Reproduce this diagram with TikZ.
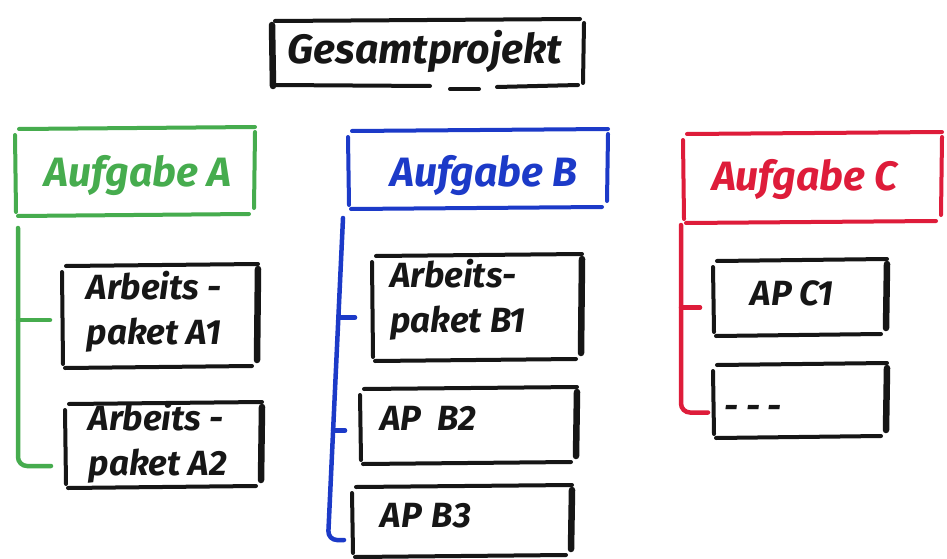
\documentclass[tikz,border=0pt]{standalone}
\usepackage{fontspec}
\setmainfont{Fira Sans}
\usetikzlibrary{calc}

\definecolor{mkgreen}{RGB}{70,172,78}
\definecolor{mkblue}{RGB}{28,58,200}
\definecolor{mkred}{RGB}{222,28,58}
\definecolor{mkblack}{RGB}{22,22,22}

\tikzset{
  stroke/.style={line width=4pt, line cap=round, line join=round},
  heavy/.style={line width=6.5pt, line cap=round},
  area/.style={draw=none, inner sep=0pt, outer sep=0pt},
  bigtext/.style={font=\fontsize{41}{48}\selectfont\bfseries\itshape, inner sep=0pt},
  aptext/.style={font=\fontsize{35}{45}\selectfont\bfseries\itshape, align=left, inner sep=0pt, text=mkblack},
  spine/.style={line width=4.5pt, line cap=round, rounded corners=9pt},
}

% a marker-drawn frame: four separate strokes around a named area
\newcommand\sketchbox[3][stroke]{%
  \draw[stroke,#3] ($(#2.north west)+(4,1)$) -- ($(#2.north east)+(0,-1)$);
  \draw[stroke,#3] ($(#2.north west)+(0,7)$) -- ($(#2.south west)+(1,-3)$);
  \draw[#1,#3] ($(#2.north east)+(0,4)$) -- ($(#2.south east)+(-1,-7)$);
  \draw[stroke,#3] ($(#2.south west)+(3,1)$) -- ($(#2.south east)+(-6,-1)$);
}

\begin{document}
\begin{tikzpicture}[x=1pt,y=-1pt]
\useasboundingbox[fill=white] (0,0) rectangle (947,559);

% ---------- top level ----------
\node[area, minimum width=312pt, minimum height=66pt] (gp) at (428,54) {};
\node[bigtext, text=mkblack] (gpt) at (425,51) {Gesamtprojekt};
\draw[heavy,mkblack] ($(gp.north west)+(0,4)$) -- ($(gp.south west)+(1,-1)$);
\draw[stroke,mkblack] ($(gp.north west)+(3,0)$) -- ($(gp.north east)+(-4,-2)$);
\draw[stroke,mkblack] ($(gp.north east)+(0,2)$) -- ($(gp.south east)+(-1,-4)$);
\draw[stroke,mkblack] ($(gp.south west)+(3,-2)$) -- ($(gp.south west)+(158,-1)$);
\draw[stroke,mkblack] ($(gp.south west)+(178,2)$) -- ($(gp.south west)+(207,2)$);
\draw[stroke,mkblack] ($(gp.south west)+(225,0)$) -- ($(gp.south east)+(-6,-2)$);

% ---------- tasks ----------
\node[area, minimum width=240pt, minimum height=87pt] (ta) at (135,171.5) {};
\node[bigtext, text=mkgreen] (tat) at (138,176) {Aufgabe A};
\sketchbox{ta}{mkgreen}

\node[area, minimum width=260pt, minimum height=78pt] (tb) at (478,169) {};
\node[bigtext, text=mkblue] (tbt) at (484,176) {Aufgabe B};
\sketchbox{tb}{mkblue}

\node[area, minimum width=259pt, minimum height=89pt] (tc) at (812.5,177.5) {};
\node[bigtext, text=mkred] (tct) at (805,180) {Aufgabe C};
\sketchbox{tc}{mkred}

% ---------- work packages ----------
\node[area, minimum width=196pt, minimum height=102pt] (a1) at (160,316) {};
\node[aptext] (a1t) at (154,312) {Arbeits -\\paket A1};
\sketchbox[heavy]{a1}{mkblack}

\node[area, minimum width=197pt, minimum height=84pt] (a2) at (163.5,445) {};
\node[aptext] (a2t) at (158,443) {Arbeits -\\paket A2};
\sketchbox[heavy]{a2}{mkblack}

\node[area, minimum width=210pt, minimum height=105pt] (b1) at (477,307.5) {};
\node[aptext] (b1t) at (458,300) {Arbeits-\\paket B1};
\sketchbox[heavy]{b1}{mkblack}

\node[area, minimum width=217pt, minimum height=75pt] (b2) at (468.5,425.5) {};
\node[aptext] (b2t) at (428,418) {AP\hspace{16pt}B2};
\sketchbox[heavy]{b2}{mkblack}

\node[area, minimum width=220pt, minimum height=70pt] (b3) at (462,521) {};
\node[aptext] (b3t) at (426,516) {AP\hspace{10pt}B3};
\sketchbox[heavy]{b3}{mkblack}

\node[area, minimum width=174pt, minimum height=75pt] (c1) at (800,297.5) {};
\node[aptext] (c1t) at (792,293) {AP C1};
\sketchbox[heavy]{c1}{mkblack}

\node[area, minimum width=174pt, minimum height=73pt] (c2) at (800,400.5) {};
\node[aptext] (c2t) at (753,412) {- - -};
\sketchbox[heavy]{c2}{mkblack}

% ---------- branch lines ----------
\coordinate (sa) at ($(ta.south west)+(3,13)$);
\draw[spine,mkgreen] (sa) |- ($(a2.west)+(-14,21)$);
\draw[spine,mkgreen] ($(sa |- a1.west)+(0,4)$) -- ($(a1.west)+(-12,4)$);

\coordinate (sb) at ($(tb.south west)+(-5,10)$);
\draw[spine,mkblue] (sb) -- ++(-15,322) -- ($(b3.west)+(-8,19)$);
\draw[spine,mkblue] ($(sb |- b1.west)+(-4,10)$) -- ($(b1.west)+(-17,10)$);
\draw[spine,mkblue] ($(sb |- b2.west)+(-10,5)$) -- ($(b2.west)+(-15,5)$);

\coordinate (sc) at ($(tc.south west)+(-2,3)$);
\draw[spine,mkred] (sc) |- ($(c2.west)+(-5,12)$);
\draw[spine,mkred] ($(sc |- c1.west)+(0,10)$) -- ($(c1.west)+(-13,10)$);
\end{tikzpicture}
\end{document}
